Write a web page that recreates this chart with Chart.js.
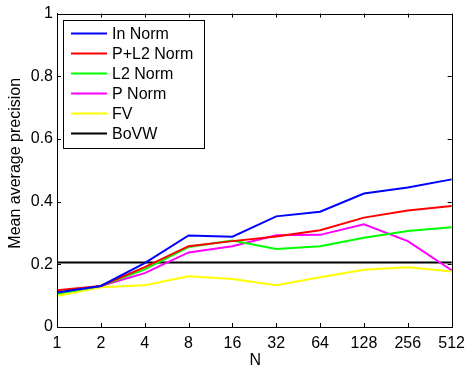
<!DOCTYPE html>
<html>
<head>
<meta charset="utf-8">
<script src="https://cdn.jsdelivr.net/npm/chart.js@4/dist/chart.umd.min.js"></script>
<style>
  html, body { margin: 0; padding: 0; background: #fff; }
  #wrap { width: 472px; height: 368px; position: relative; }
</style>
</head>
<body>
<div id="wrap"><canvas id="c" width="472" height="368"></canvas></div>
<script>
// Vocabulary sizes on the x axis
const categories = ['1', '2', '4', '8', '16', '32', '64', '128', '256', '512'];

// Mean average precision per method
const inNorm   = [0.110, 0.131, 0.204, 0.292, 0.288, 0.353, 0.368, 0.426, 0.445, 0.471];
const pL2Norm  = [0.117, 0.131, 0.191, 0.258, 0.274, 0.289, 0.309, 0.349, 0.372, 0.386];
const l2Norm   = [0.106, 0.131, 0.184, 0.255, 0.276, 0.249, 0.258, 0.285, 0.306, 0.318];
const pNorm    = [0.108, 0.131, 0.172, 0.238, 0.258, 0.293, 0.294, 0.328, 0.274, 0.181];
const fv       = [0.099, 0.127, 0.133, 0.162, 0.153, 0.133, 0.159, 0.183, 0.191, 0.177];
const bovw     = [0.206, 0.206, 0.206, 0.206, 0.206, 0.206, 0.206, 0.206, 0.206, 0.206];

const seriesNames = ['In Norm', 'P+L2 Norm', 'L2 Norm', 'P Norm', 'FV', 'BoVW'];
const seriesColors = ['#0000ff', '#ff0000', '#00ff00', '#ff00ff', '#ffff00', '#000000'];
const seriesValues = [inNorm, pL2Norm, l2Norm, pNorm, fv, bovw];

// y-axis tick values
const yTicks = [0, 0.2, 0.4, 0.6, 0.8, 1];
const yTitle = 'Mean average precision';
const xTitle = 'N';

const FONT = 'Liberation Sans, Arial, Helvetica, sans-serif';
const FS = 16;

// Inward tick marks on all four sides, the box outline and the axis titles
const boxTicks = {
  id: 'boxTicks',
  afterDraw(chart) {
    const { ctx, chartArea: a, scales } = chart;
    const len = 4;
    ctx.save();
    ctx.strokeStyle = '#000';
    ctx.lineWidth = 1;
    ctx.beginPath();
    categories.forEach((c, i) => {
      const x = Math.round(scales.x.getPixelForValue(i)) + 0.5;
      ctx.moveTo(x, a.bottom); ctx.lineTo(x, a.bottom - len);
      ctx.moveTo(x, a.top); ctx.lineTo(x, a.top + len);
    });
    yTicks.forEach(v => {
      const y = Math.round(scales.y.getPixelForValue(v)) + 0.5;
      ctx.moveTo(a.left, y); ctx.lineTo(a.left + len, y);
      ctx.moveTo(a.right, y); ctx.lineTo(a.right - len, y);
    });
    ctx.stroke();
    ctx.strokeRect(Math.round(a.left) + 0.5, Math.round(a.top) + 0.5,
                   Math.round(a.right - a.left), Math.round(a.bottom - a.top));

    ctx.font = FS + 'px ' + FONT;
    ctx.fillStyle = '#000';
    ctx.textAlign = 'center';
    ctx.textBaseline = 'middle';
    // x-axis title
    ctx.fillText(xTitle, (a.left + a.right) / 2 + 1, a.bottom + 34);
    // rotated y-axis title
    ctx.translate(16, (a.top + a.bottom) / 2 - 7);
    ctx.rotate(-Math.PI / 2);
    ctx.fillText(yTitle, 0, 0);
    ctx.restore();
  }
};

// Boxed legend in the upper-left corner of the plot
const boxLegend = {
  id: 'boxLegend',
  afterDraw(chart) {
    const { ctx, chartArea: a } = chart;
    const x0 = a.left + 6, y0 = a.top + 6;
    const w = 141, rowH = 20;
    const h = rowH * seriesNames.length + 8;
    ctx.save();
    ctx.fillStyle = '#fff';
    ctx.fillRect(x0, y0, w, h);
    ctx.strokeStyle = '#000';
    ctx.lineWidth = 1;
    ctx.strokeRect(Math.round(x0) + 0.5, Math.round(y0) + 0.5, w, h);
    ctx.font = FS + 'px ' + FONT;
    ctx.textBaseline = 'middle';
    ctx.textAlign = 'left';
    seriesNames.forEach((name, i) => {
      const cy = y0 + 14 + i * rowH;
      ctx.strokeStyle = seriesColors[i];
      ctx.lineWidth = 2;
      ctx.beginPath();
      ctx.moveTo(x0 + 8, cy); ctx.lineTo(x0 + 44, cy);
      ctx.stroke();
      ctx.fillStyle = '#000';
      ctx.fillText(name, x0 + 49, cy + 1);
    });
    ctx.restore();
  }
};

new Chart(document.getElementById('c'), {
  type: 'line',
  data: {
    labels: categories,
    datasets: seriesValues.map((vals, i) => ({
      label: seriesNames[i],
      data: vals,
      borderColor: seriesColors[i],
      backgroundColor: seriesColors[i],
      borderWidth: 2,
      pointRadius: 0,
      tension: 0,
      fill: false
    }))
  },
  options: {
    responsive: false,
    animation: false,
    devicePixelRatio: 1,
    layout: { padding: { top: 13, right: 15, left: 0, bottom: 0 } },
    plugins: {
      legend: { display: false },
      tooltip: { enabled: false }
    },
    scales: {
      x: {
        type: 'category',
        offset: false,
        grid: { display: false, drawTicks: false },
        border: { display: true, color: '#000', width: 1 },
        ticks: { color: '#000', font: { family: FONT, size: FS }, padding: 7, maxRotation: 0, autoSkip: false },
        afterFit(s) { s.height = 41; }
      },
      y: {
        min: 0, max: 1,
        afterBuildTicks(s) { s.ticks = yTicks.map(v => ({ value: v })); },
        grid: { display: false, drawTicks: false },
        border: { display: true, color: '#000', width: 1 },
        ticks: {
          color: '#000', font: { family: FONT, size: FS }, padding: 4,
          callback: v => String(v)
        },
        afterFit(s) { s.width = 57; }
      }
    }
  },
  plugins: [boxTicks, boxLegend]
});
</script>
</body>
</html>
